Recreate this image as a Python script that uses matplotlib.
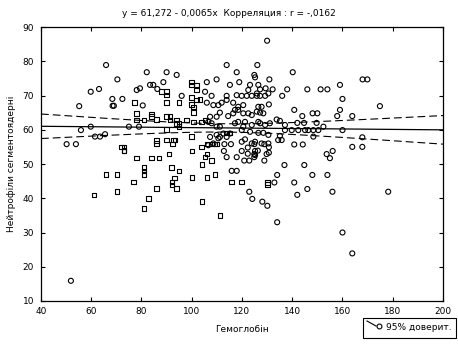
import numpy as np
import matplotlib
matplotlib.use("Agg")
import matplotlib.pyplot as plt
from matplotlib.lines import Line2D
from matplotlib.patches import Rectangle

plt.rcParams['font.family'] = ['DejaVu Sans']

# =========================
# DATA
# =========================
# square markers
sq_x = [61.1, 70.2, 65.9, 70.2, 76.9, 81, 81, 81, 78.1, 84.1, 87, 73, 86, 82.9, 81, 90.9,
        92, 94.9, 92.1, 92.1, 93.2, 94, 100.1, 100.1, 104.1, 104.1, 106.1, 109.3, 105.3,
        106, 107.9, 111.2, 115.9, 119.9, 72.1, 73.1, 73.1, 86, 86, 90, 92.3, 93.3, 104,
        106, 107.9, 109, 109.9, 100, 130.2, 130.2,
        78.1, 78.1, 84.1, 84.1, 86, 90, 91.3, 91.3, 81, 95, 95, 98, 100.6, 100, 100, 102,
        100, 100, 102, 102, 88, 90, 90, 90, 95, 90, 92.7, 94, 94, 104, 105.3, 103.3,
        100.6, 100.6, 113.9, 115.2, 77.1]
sq_y = [41, 41.9, 46.9, 46.9, 44.8, 49, 47.9, 46.9, 51.8, 51.8, 51.8, 53.8, 42.8, 39.9, 37, 52.9,
        48.9, 47.9, 44.8, 43.9, 45.9, 42.8, 53.8, 46, 49.8, 39, 46, 46.9, 52,
        52.9, 51, 34.9, 44.8, 44.8, 55, 55, 53.9, 56, 56.8, 57, 55.8, 57, 55,
        55.8, 55.8, 55.8, 55.8, 58, 44.6, 44,
        62.8, 64.8, 64.6, 63.8, 63, 63.8, 63.8, 62.8, 62.8, 61.9, 60.9, 62.8, 62.3, 67.4, 69.4, 68.7,
        73.9, 73.1, 73.1, 71.6, 71.1, 71.1, 70.1, 67.9, 67.9, 60.1, 57, 62.8, 61.9, 62.3, 62.8, 68.9,
        66.7, 65, 59.1, 59.1, 67.9]

# circle markers
circ_x = [51.9, 50.2, 53.9, 55.9, 59.8, 61.5, 63.5, 65.5, 75, 79, 55.2, 59.8, 63.1, 65.9, 70.4,
          68.4, 72.4, 68.5, 69, 82.1, 90, 94, 78.1, 79.4, 83.4, 84.7, 86.3, 88.7, 96, 80.5,
          106, 109.9, 113.9, 117.9, 115.2, 118.9, 105.3, 107.9, 106, 108.6, 110.6, 111.9,
          113.9, 116.5, 113.9, 117.9, 119.9, 121.9, 123.9, 125.9, 111.2, 107.3, 109.9, 114.5,
          106.6, 107.9, 111.2, 109.9, 112.6, 115.2, 113.9, 111.2, 107.3, 108.6, 106.6, 109.9,
          110.6, 120.5, 119.9, 118.5, 121.2, 120.5, 118.5, 120.5, 122.5, 118.5, 122.5, 123.9,
          125.9, 117.2, 116.5, 117.2, 123.9, 126.5, 123.2, 121.2, 119.9, 125.2, 123.9, 113,
          115.6, 122.3, 119.9, 122.3, 125.2, 124.9, 113.9, 117.9, 120.9, 122.9, 124.9, 124.9,
          128.9, 112.8, 115.9, 117.9, 122.9, 124.1, 128.1, 130.1, 134, 136.9, 144.8, 134, 148,
          154, 132.9, 140.8, 146, 142, 156, 178.2, 160, 163.9, 153.7, 155, 156.1, 128.9, 130.7,
          129.8, 126.3, 125.2, 130.7, 140.8, 144.2, 163.9, 167.9, 167.9,
          130, 126.1, 140.2, 124.9, 125.2, 123.2, 126.5, 130.9, 168, 169.9, 159, 138, 146,
          151.3, 154, 127.2, 129.4, 132.2, 136, 160, 174.9, 140.8, 148.1, 150, 159, 157.9,
          163.9, 144, 133.8, 135.1, 142, 144.7, 149.7, 160,
          125.9, 127.2, 129.2, 130.5, 130.7, 126.5, 127.8, 127.2, 128.5, 127.2, 129.2, 131.1,
          137.1, 152.4, 137.1, 139.8, 142.4, 145.1, 146.4, 148.4, 150.4, 135.1, 134.4, 135.8,
          126.5, 128.5, 130.5, 148.4, 127.8, 130.5]
circ_y = [15.9, 55.8, 55.8, 59.9, 60.9, 58, 58, 58.7, 60.9, 60.9, 66.9, 71.1, 71.9, 78.9, 74.7,
          69, 69, 67, 67, 76.8, 76.8, 76, 71.6, 72.1, 73.1, 73.1, 71.9, 73.9, 69.9, 67.1,
          73.9, 74.7, 78.9, 76.8, 73.1, 73.9, 71.1, 69.9, 67.9, 67.2, 67.2, 67.9,
          68.7, 67.9, 69.9, 70.1, 69.9, 69.9, 69.9, 69.9, 65, 63.8, 63.8, 64,
          62.3, 61.9, 60.9, 60.9, 58.9, 58.9, 57.9, 57.9, 57.9, 56, 55.5, 58.5,
          57.5, 60.9, 59.9, 62.3, 62.3, 64.8, 65.8, 67.2, 71.6, 66.7, 64.8, 64.3,
          65.3, 65.8, 64.8, 61.9, 61.4, 62.3, 59.4, 57.2, 56.5, 56.5, 56, 55.8,
          55.8, 54.8, 53.8, 53, 53.8, 55.8, 52, 52, 51, 51, 52, 52.9,
          51, 53.8, 48, 48, 41.9, 39.8, 39, 37.8, 33, 49.7, 49.7, 46.8, 46.8,
          46.8, 44.6, 44.6, 42.7, 41, 41.9, 41.9, 30, 23.9, 52.9, 51.7, 53.8, 55.8, 54.9,
          52.9, 53.9, 52.6, 53.3, 55.7, 55.7, 55, 55, 57.8,
          86, 78.9, 76.8, 76, 75.3, 73.1, 73.1, 74.7, 74.7, 74.7, 73.1, 71.8, 71.8,
          71.8, 71.8, 71.8, 72.1, 71.8, 69.9, 69, 66.9, 65.8, 64.8, 64.8, 65.8, 64,
          64, 64, 63, 62.6, 62, 62, 62, 59.9,
          70.6, 69.9, 69.9, 70.6, 67.4, 66.7, 66.7, 65, 64.8, 61.9, 61.4, 61.9,
          61.4, 60.9, 59.9, 59.9, 59.9, 59.9, 59.9, 59.9, 59.9, 58.2, 57, 57,
          59.1, 59.1, 58.5, 58, 56, 56]

# regression from the chart title
intercept = 61.272
slope = -0.0065

x_ticks = [40, 60, 80, 100, 120, 140, 160, 180, 200]
y_ticks = [10, 20, 30, 40, 50, 60, 70, 80, 90]

# =========================
# REGRESSION + 95% BAND
# =========================
all_x = np.array(sq_x + circ_x)
all_y = np.array(sq_y + circ_y)
n = len(all_x)
resid = all_y - (intercept + slope * all_x)
s = np.sqrt(np.sum(resid ** 2) / (n - 2))
sxx = np.sum((all_x - all_x.mean()) ** 2)

xx = np.linspace(40, 200, 200)
yy = intercept + slope * xx
half = 1.97 * s * np.sqrt(1 / n + (xx - all_x.mean()) ** 2 / sxx)

# =========================
# PLOT
# =========================
fig = plt.figure(figsize=(4.58, 3.44), dpi=100)
ax = fig.add_axes([0.0895, 0.125, 0.8777, 0.7965])

ax.plot(xx, yy, color="black", lw=0.9)
ax.plot(xx, yy + half, color="black", lw=0.8, dashes=(7, 3.6))
ax.plot(xx, yy - half, color="black", lw=0.8, dashes=(7, 3.6))

ax.scatter(sq_x, sq_y, marker="s", s=11, facecolors="none", edgecolors="black", linewidths=0.8)
ax.scatter(circ_x, circ_y, marker="o", s=13, facecolors="none", edgecolors="black", linewidths=0.8)

ax.set_xlim(40, 200)
ax.set_ylim(10, 90)
ax.set_xticks(x_ticks)
ax.set_yticks(y_ticks)
ax.tick_params(direction="in", length=3, width=0.8, labelsize=6.5,
               top=True, right=True, pad=5)
ax.tick_params(axis="x", pad=4)
for sp in ax.spines.values():
    sp.set_linewidth(0.9)

ax.set_xlabel("Гемоглобін", fontsize=6.5, labelpad=7)
ax.set_ylabel("Нейтрофіли сегментоядерні", fontsize=6.5, labelpad=5)

fig.text(0.5, 1 - 14 / 344, "y = 61,272 - 0,0065x  Корреляция : r = -,0162",
         ha="center", va="center", fontsize=6.5)

# legend box
fig.add_artist(Rectangle((363 / 458, 1 - 338 / 344), 93 / 458, 20 / 344,
                         transform=fig.transFigure, facecolor="white",
                         edgecolor="black", lw=0.8))
fig.add_artist(Line2D([367 / 458, 376 / 458], [1 - 321 / 344, 1 - 326 / 344],
                      transform=fig.transFigure, color="black", lw=0.8))
fig.add_artist(Line2D([379 / 458], [1 - 326 / 344], transform=fig.transFigure,
                      marker="o", markersize=3.5, markerfacecolor="none",
                      markeredgecolor="black", markeredgewidth=0.8))
fig.text(386 / 458, 1 - 328 / 344, "95% доверит.", ha="left", va="center", fontsize=6.5)

fig.savefig("out.png", dpi=100)
